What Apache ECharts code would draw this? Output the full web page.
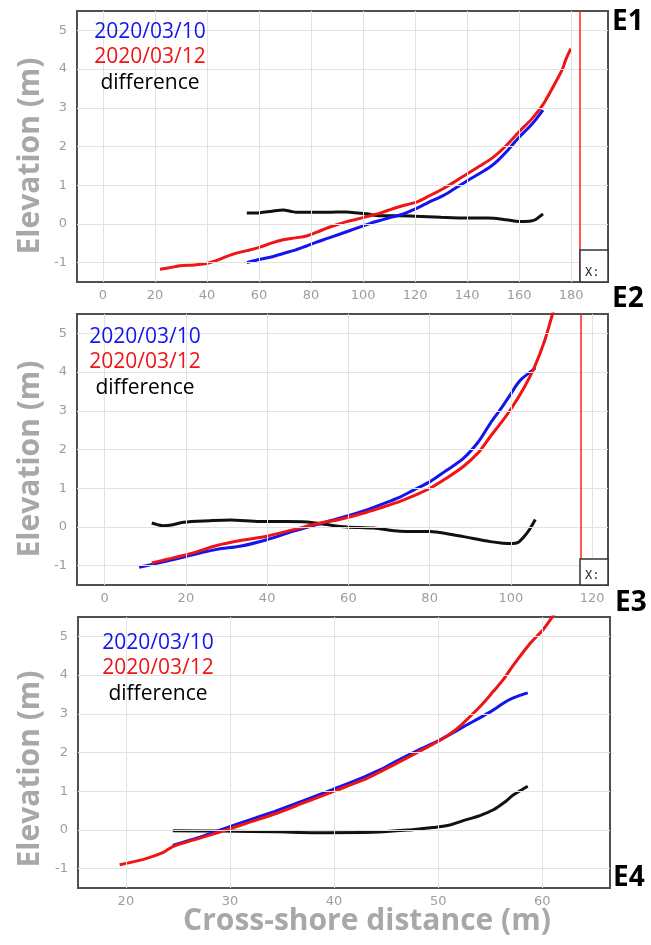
<!DOCTYPE html>
<html><head><meta charset="utf-8">
<script src="https://cdn.jsdelivr.net/npm/echarts@6/dist/echarts.min.js"></script>
<style>html,body{margin:0;padding:0;background:#fff}#c{width:651px;height:945px}</style>
</head><body><div id="c"></div><script>
// ---------- tick labels ----------
const E1_X_TICKS = [0,20,40,60,80,100,120,140,160,180];
const E2_X_TICKS = [0,20,40,60,80,100,120];
const E3_X_TICKS = [20,30,40,50,60];
const Y_TICKS = [-1,0,1,2,3,4,5];
const LEGEND_NAMES = ['2020/03/10','2020/03/12','difference'];
const PANEL_NAMES = ['E1','E2','E3','E4'];
const CURSOR_X = [183.5, 117.1];

// ---------- E1 ----------
const E1_BLUE_X = [55.3,60,65.5,70,73.2,77,80.9,86,91.2,95,100.1,103,106.5,110,114.2,120.8,125,130.8,135,140.4,145,148.8,152,156,160,165,169.2];
const E1_BLUE_Y = [-1.0,-0.92,-0.84,-0.75,-0.69,-0.6,-0.5,-0.38,-0.26,-0.17,-0.05,0.02,0.09,0.16,0.23,0.41,0.55,0.73,0.9,1.13,1.31,1.47,1.65,1.93,2.24,2.58,2.94];
const E1_RED_X = [21.9,25,29.6,35,39.2,43,47.6,51,55.3,60.4,65,69.3,74,78.3,82,86,90,93.7,97.5,101.4,106.5,110,114.2,120.8,125,130.8,135,140.4,145,150,155,160,165,169.2,173,176.5,178,179.9];
const E1_RED_Y = [-1.17,-1.14,-1.08,-1.06,-1.03,-0.96,-0.84,-0.76,-0.69,-0.6,-0.49,-0.41,-0.36,-0.31,-0.22,-0.11,-0.02,0.06,0.12,0.19,0.28,0.36,0.45,0.57,0.71,0.91,1.08,1.31,1.5,1.72,2.02,2.38,2.72,3.08,3.53,3.97,4.25,4.53];
const E1_DIFF_X = [55.3,60.4,65,69.3,72,74.5,80,86,93.7,97,101.4,106.5,114.2,120,130,140,148,155,160,164,166,169.2];
const E1_DIFF_Y = [0.28,0.29,0.33,0.36,0.33,0.30,0.30,0.30,0.31,0.29,0.26,0.21,0.21,0.2,0.17,0.15,0.15,0.11,0.06,0.07,0.1,0.26];

// ---------- E2 ----------
const E2_BLUE_X = [8.5,12,15.3,20.2,27.6,33.3,39.9,46.5,52.2,58,64.5,67.8,72.7,76,80.1,84,88.3,92,94.9,97.5,100,101.5,102.7,104.5,106];
const E2_BLUE_Y = [-1.04,-0.96,-0.88,-0.76,-0.58,-0.5,-0.33,-0.11,0.06,0.23,0.44,0.57,0.77,0.95,1.17,1.45,1.77,2.2,2.67,3.05,3.44,3.68,3.83,3.98,4.11];
const E2_RED_X = [11.6,14,16.9,21.8,27.6,34.1,39.9,46.5,53,58,64.5,67.8,72.7,76,80.1,84,88.3,92,94.9,97.5,100.1,103.3,105.8,108.3,110.2,110.7];
const E2_RED_Y = [-0.93,-0.87,-0.8,-0.67,-0.48,-0.34,-0.24,-0.07,0.1,0.2,0.38,0.49,0.66,0.8,1.0,1.25,1.56,1.92,2.33,2.68,3.06,3.61,4.13,4.81,5.48,5.65];
const E2_DIFF_X = [11.6,13,14.4,16.5,19.4,25.9,30.9,38.3,44.8,49.8,52,54.7,59.6,66.2,72.7,80.1,84,88.3,94.9,98,100.3,101.8,103,104.5,106];
const E2_DIFF_Y = [0.1,0.06,0.03,0.05,0.12,0.16,0.18,0.14,0.14,0.13,0.1,0.06,0.0,-0.03,-0.11,-0.12,-0.17,-0.25,-0.38,-0.42,-0.43,-0.4,-0.28,-0.08,0.19];

// ---------- E3 ----------
const E3_BLUE_X = [24.5,27.1,29.3,31.9,34.5,37,39.9,42.8,44.4,46,48,50,52.4,55,56.6,57.6,58.6];
const E3_BLUE_Y = [-0.40,-0.19,0.02,0.26,0.5,0.75,1.05,1.36,1.55,1.78,2.05,2.3,2.66,3.05,3.33,3.45,3.54];
const E3_RED_X = [19.4,21.7,23.6,24.5,27.1,29.3,31.9,34.5,37,39.9,42.8,44.4,46,48,50,51.5,52.4,54,55.3,56.3,57.2,58.8,60,60.9,61.3];
const E3_RED_Y = [-0.9,-0.76,-0.58,-0.43,-0.21,-0.03,0.2,0.43,0.69,0.99,1.29,1.5,1.72,2.0,2.29,2.55,2.76,3.18,3.58,3.9,4.25,4.81,5.15,5.48,5.62];
const E3_DIFF_X = [24.5,29.3,34.5,38.3,43.7,47.3,49.5,51,52.4,54,55.3,56.3,57.2,58.6];
const E3_DIFF_Y = [-0.02,-0.03,-0.05,-0.07,-0.06,0.0,0.06,0.12,0.24,0.37,0.52,0.7,0.9,1.13];

const zip = (xs, ys) => xs.map((x, i) => [x, ys[i]]);

const BLUE = '#1414ee', RED = '#f01414', BLACK = '#111111';
const GRID_COLOR = '#e2e2e2';
const TICK_COLOR = '#9d9d9d';
const TITLE_COLOR = '#a8a8a8';

const panels = [
  {grid:{left:77, top:11, width:531, height:271}, xmin:-10, xmax:194.2, xt:E1_X_TICKS,
   blue:zip(E1_BLUE_X,E1_BLUE_Y), red:zip(E1_RED_X,E1_RED_Y), diff:zip(E1_DIFF_X,E1_DIFF_Y), cursor:CURSOR_X[0]},
  {grid:{left:77, top:314, width:531, height:271}, xmin:-6.8, xmax:123.9, xt:E2_X_TICKS,
   blue:zip(E2_BLUE_X,E2_BLUE_Y), red:zip(E2_RED_X,E2_RED_Y), diff:zip(E2_DIFF_X,E2_DIFF_Y), cursor:CURSOR_X[1]},
  {grid:{left:78, top:617, width:532, height:271}, xmin:15.4, xmax:66.5, xt:E3_X_TICKS,
   blue:zip(E3_BLUE_X,E3_BLUE_Y), red:zip(E3_RED_X,E3_RED_Y), diff:zip(E3_DIFF_X,E3_DIFF_Y), cursor:null}
];

const grid = [], xAxis = [], yAxis = [], series = [];
panels.forEach((p, i) => {
  grid.push(Object.assign({show:true, borderColor:'#505050', borderWidth:2, backgroundColor:'#fff', containLabel:false}, p.grid));
  xAxis.push({type:'value', gridIndex:i, min:p.xmin, max:p.xmax,
    axisLine:{show:false}, axisTick:{show:false}, splitLine:{show:false},
    axisLabel:{customValues:p.xt, color:TICK_COLOR, fontFamily:'DejaVu Sans', fontSize:13, margin:7}});
  yAxis.push({type:'value', gridIndex:i, min:-1.5, max:5.5,
    axisLine:{show:false}, axisTick:{show:false}, splitLine:{show:false},
    axisLabel:{customValues:Y_TICKS, color:TICK_COLOR, fontFamily:'DejaVu Sans', fontSize:13, margin:10}});
  // grid lines
  series.push({type:'line', xAxisIndex:i, yAxisIndex:i, z:1, silent:true, showSymbol:false,
    data:[[p.xmin, -1.5]], lineStyle:{opacity:0},
    markLine:{silent:true, symbol:['none','none'], label:{show:false}, animation:false,
      lineStyle:{color:GRID_COLOR, width:1, type:'solid'},
      data:[...p.xt.map(v => ({xAxis:v})), ...Y_TICKS.map(v => ({yAxis:v}))]}});
  if (p.cursor !== null) {
    series.push({type:'line', xAxisIndex:i, yAxisIndex:i, z:5, silent:true, showSymbol:false,
      data:[[p.xmin, -1.5]], lineStyle:{opacity:0},
      markLine:{silent:true, symbol:['none','none'], label:{show:false}, animation:false,
        lineStyle:{color:'#ff2020', width:1.5, type:'solid'},
        data:[{xAxis:p.cursor}]}});
  }
  const mk = (name, data, color) => ({name, type:'line', xAxisIndex:i, yAxisIndex:i, z:3, data,
    showSymbol:false, smooth:0.3, animation:false, lineStyle:{color, width:3}, itemStyle:{color}});
  series.push(mk(LEGEND_NAMES[2], p.diff, BLACK));
  series.push(mk(LEGEND_NAMES[0], p.blue, BLUE));
  series.push(mk(LEGEND_NAMES[1], p.red, RED));
});

const graphic = [];
// cursor readout boxes
[[580,250,28,32],[580,559,28,26]].forEach(([x,y,w,h]) => {
  graphic.push({type:'rect', z:50, shape:{x, y, width:w, height:h}, style:{fill:'#fff', stroke:'#333', lineWidth:1.5}});
  graphic.push({type:'text', z:51, x:x+5, y:y+h-9, style:{text:'X:', fill:'#222', font:'12px "DejaVu Sans Mono"', textVerticalAlign:'middle'}});
});
// legends
const legendPos = [[150,32],[145,337],[158,643]];
legendPos.forEach(([cx, cy]) => {
  [BLUE, RED, '#000'].forEach((c, k) => {
    graphic.push({type:'text', z:40, x:cx, y:cy + k*25.5,
      style:{text:LEGEND_NAMES[k], fill:c, font:'21px "Open Sans"', textAlign:'center', textVerticalAlign:'middle'}});
  });
});
// panel names
[[612,22],[612,299],[615,603],[613,878]].forEach(([x,y], k) => {
  graphic.push({type:'text', z:40, x, y, style:{text:PANEL_NAMES[k], fill:'#000', font:'bold 28px "Open Sans"', textVerticalAlign:'middle'}});
});
// y titles
[156,459,769].forEach(cy => {
  graphic.push({type:'text', z:40, x:30, y:cy, rotation:Math.PI/2,
    style:{text:'Elevation (m)', fill:TITLE_COLOR, font:'bold 30px "Open Sans"', textAlign:'center', textVerticalAlign:'middle'}});
});
// x title
graphic.push({type:'text', z:40, x:367, y:921,
  style:{text:'Cross-shore distance (m)', fill:TITLE_COLOR, font:'bold 30px "Open Sans"', textAlign:'center', textVerticalAlign:'middle'}});

const chart = echarts.init(document.getElementById('c'), null, {renderer:'canvas'});
chart.setOption({animation:false, backgroundColor:'#fff', grid, xAxis, yAxis, series, graphic});
</script></body></html>
